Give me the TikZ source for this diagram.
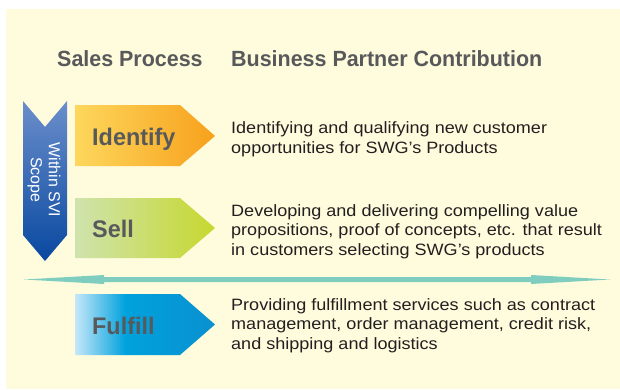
\documentclass[tikz,border=0pt]{standalone}
\usepackage{fontspec}
\setmainfont{Liberation Sans}
\newfontfamily\headfont{Liberation Sans}[FakeStretch=0.975]
\newfontfamily\descfont{Liberation Sans}[FakeStretch=1.1]
\definecolor{bgcream}{HTML}{FFFBDD}
\definecolor{headgray}{HTML}{58595B}
\definecolor{txtdark}{HTML}{231F20}
\definecolor{scopetop}{HTML}{6B8ECB}
\definecolor{scopebot}{HTML}{0848A0}
\definecolor{idleft}{HTML}{FDD75C}
\definecolor{idright}{HTML}{F7A11C}
\definecolor{sellleft}{HTML}{CFE3AE}
\definecolor{sellright}{HTML}{C6D82E}
\definecolor{fulA}{HTML}{C6E7F9}
\definecolor{fulB}{HTML}{00A2DD}
\definecolor{fulC}{HTML}{0A90D0}
\definecolor{teal}{HTML}{7ECDBF}
\pgfdeclarehorizontalshading{fulfillshade}{100bp}{color(0bp)=(fulA); color(25bp)=(fulA); color(43bp)=(fulB); color(75bp)=(fulC); color(100bp)=(fulC)}
\tikzset{
  heading/.style={anchor=base west, inner sep=0pt, text=headgray, font=\headfont\bfseries\fontsize{22}{24}\selectfont},
  steplabel/.style={anchor=base west, inner sep=0pt, text=headgray, font=\headfont\bfseries\fontsize{24}{26}\selectfont},
  desc/.style={anchor=west, inner sep=0pt, align=left, text=txtdark, font=\descfont\fontsize{16.4}{19.7}\selectfont},
}
\begin{document}
\begin{tikzpicture}[x=1pt,y=-1pt]
\useasboundingbox (0,0) rectangle (620,389);
\fill[white] (0,0) rectangle (620,389);
\fill[bgcream] (6,9) rectangle (620,389);
% headings
\node[heading] (hsp) at (57,66) {Sales Process};
\node[heading] (hbp) at (231,66) {Business Partner Contribution};
% scope chevron
\shade[top color=scopetop, bottom color=scopebot]
  (23,101) -- (45,127) -- (67,101) -- (67,235) -- (45,261) -- (23,235) -- cycle;
\node[rotate=-90, align=center, text=white, inner sep=0pt,
  font=\fontsize{16}{18}\selectfont] (scope) at (44,180) {Within SVI\\Scope};
% identify
\shade[left color=idleft, right color=idright]
  (75,105) -- (180,105) -- (215,136) -- (180,166) -- (75,166) -- cycle;
\node[steplabel] (sid) at (92,145) {Identify};
\node[desc] (did) at (231,139.5) {Identifying and qualifying new customer\\opportunities for SWG’s Products};
% sell
\shade[left color=sellleft, right color=sellright]
  (75,198) -- (180,198) -- (215,228) -- (180,258) -- (75,258) -- cycle;
\node[steplabel] (ssl) at (92,237) {Sell};
\node[desc] (dsl) at (231,231.5) {Developing and delivering compelling value\\propositions, proof of concepts, etc. that result\\in customers selecting SWG’s products};
% double arrow
\fill[teal] (24,279.5) -- (104,275) -- (104,277) -- (531,277) -- (531,275) -- (610,279.5)
  -- (531,284) -- (531,282) -- (104,282) -- (104,284) -- cycle;
% fulfill
\shade[shading=fulfillshade]
  (75,294) -- (180,294) -- (215,324.5) -- (180,355) -- (75,355) -- cycle;
\node[steplabel] (sfl) at (92,334) {Fulfill};
\node[desc] (dfl) at (231,325.5) {Providing fulfillment services such as contract\\management, order management, credit risk,\\and shipping and logistics};
\end{tikzpicture}
\end{document}
